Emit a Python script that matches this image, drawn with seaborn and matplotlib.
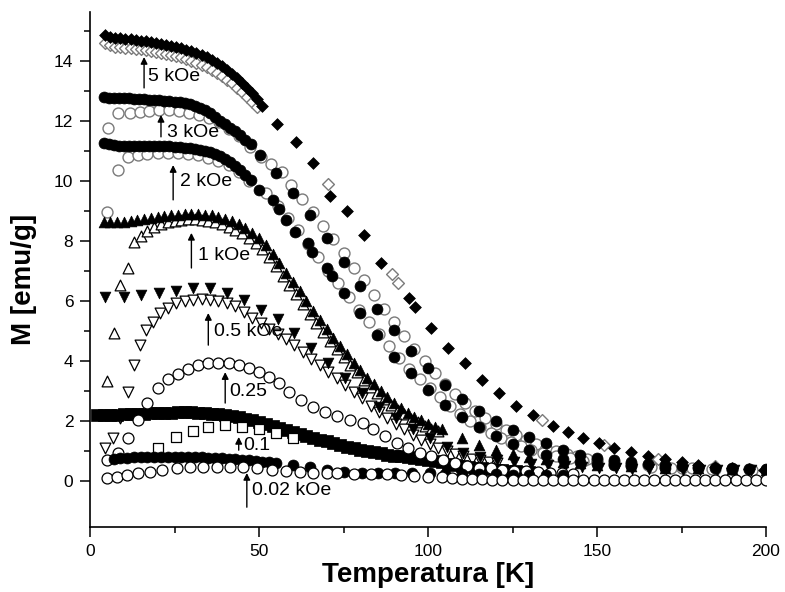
import matplotlib
matplotlib.use("Agg")
import matplotlib.pyplot as plt
import seaborn as sns

# ---------------- data ----------------
# 5 kOe
T_5k_fc = [4.5, 6, 7.5, 9, 10.5, 12, 13.5, 15, 16.5, 18, 19.5, 21, 22.5, 24, 25.5, 27, 28.5, 30, 31.5, 33,
           34.5, 36, 37.5, 39, 40.5, 42, 43.5, 45, 46.5, 48, 49.5, 51,
           55.3, 61, 66, 71, 76, 81, 86, 94.5, 96.2, 101, 106, 111, 116, 121, 126, 131, 137, 141.5,
           146, 150.5, 155, 160, 165, 170, 175, 180, 185, 190, 195, 199.5]
M_5k_fc = [14.85, 14.8, 14.78, 14.75, 14.73, 14.72, 14.7, 14.68, 14.65, 14.62, 14.6, 14.57, 14.53, 14.5,
           14.46, 14.42, 14.37, 14.32, 14.26, 14.2, 14.12, 14.03, 13.93, 13.82, 13.7, 13.56, 13.42, 13.26,
           13.1, 12.92, 12.72, 12.5,
           11.9, 11.3, 10.6, 9.5, 9.0, 8.2, 7.25, 6.1, 5.8, 5.1, 4.45, 3.93, 3.38, 2.93, 2.5, 2.2, 1.85, 1.63,
           1.42, 1.27, 1.1, 0.98, 0.85, 0.72, 0.62, 0.55, 0.48, 0.43, 0.4, 0.37]
T_5k_zfc = [4.5, 6, 7.5, 9, 10.5, 12, 13.5, 15, 16.5, 18, 19.5, 21, 22.5, 24, 25.5, 27, 28.5, 30, 31.5, 33,
            34.5, 36, 37.5, 39, 40.5, 42, 43.5, 45, 46.5, 48, 49.5,
            70.5, 89.3, 91.1, 133.7, 152, 168, 185]
M_5k_zfc = [14.6, 14.52, 14.48, 14.45, 14.43, 14.42, 14.4, 14.39, 14.37, 14.34, 14.31, 14.28, 14.24, 14.2,
            14.16, 14.12, 14.06, 14.0, 13.94, 13.87, 13.79, 13.7, 13.6, 13.5, 13.38, 13.25, 13.1, 12.95,
            12.8, 12.62, 12.45,
            9.9, 6.9, 6.6, 2.03, 1.2, 0.75, 0.5]

# 3 kOe
T_3k_fc = [4, 5.5, 7, 8.5, 10, 11.5, 13, 14.5, 16, 17.5, 19, 20.5, 22, 23.5, 25, 26.5, 28, 29.5, 31, 32.5,
           34, 35.5, 37, 38.5, 40, 41.5, 43, 44.5, 46, 47.5,
           50.3, 55, 60, 65, 70, 75, 80, 85, 90, 95, 100, 105, 110, 115, 120, 125, 130, 135, 140, 145, 150,
           155, 160, 165, 170, 175, 180, 185, 190, 195, 200]
M_3k_fc = [12.8, 12.78, 12.77, 12.76, 12.76, 12.75, 12.74, 12.73, 12.72, 12.71, 12.7, 12.69, 12.68, 12.66,
           12.64, 12.62, 12.59, 12.55, 12.5, 12.43, 12.35, 12.25, 12.12, 12.0, 11.9, 11.78, 11.66, 11.53,
           11.38, 11.22,
           10.87, 10.27, 9.6, 8.87, 8.1, 7.3, 6.5, 5.73, 5.03, 4.33, 3.77, 3.2, 2.75, 2.35, 2.0, 1.7, 1.47,
           1.28, 1.05, 0.88, 0.77, 0.7, 0.63, 0.58, 0.53, 0.5, 0.47, 0.45, 0.43, 0.41, 0.4]
T_3k_zfc = [5.4, 8.3, 11.7, 14.7, 17.6, 20.5, 23.4, 26.3, 29.2, 32.2, 35.2, 38.2, 41.2,
            44, 47.3, 50.5, 53.5, 56.8, 59.5, 62.7, 66, 69, 72, 75, 78, 81, 84, 87, 90, 93, 96, 99, 102,
            105, 108, 111, 114, 117, 120, 123, 126, 129, 132, 135, 138, 141, 144, 147, 150,
            155, 160, 165, 170, 175, 180, 185, 190, 195]
M_3k_zfc = [11.77, 12.27, 12.27, 12.3, 12.33, 12.37, 12.37, 12.33, 12.27, 12.2, 12.1, 11.95, 11.72,
            11.5, 11.13, 10.8, 10.55, 10.3, 9.87, 9.4, 8.95, 8.5, 8.05, 7.6, 7.1, 6.7, 6.2, 5.75, 5.3,
            4.85, 4.4, 4.0, 3.6, 3.25, 2.9, 2.6, 2.35, 2.1, 1.9, 1.7, 1.52, 1.37, 1.23, 1.1, 1.0, 0.9,
            0.82, 0.75, 0.7, 0.62, 0.56, 0.52, 0.48, 0.45, 0.43, 0.41, 0.4, 0.39]

# 2 kOe
T_2k_fc = [4, 5.5, 7, 8.5, 10, 11.5, 13, 14.5, 16, 17.5, 19, 20.5, 22, 23.5, 25, 26.5, 28, 29.5, 31, 32.5,
           34, 35.5, 37, 38.5, 40, 41.5, 43, 44.5, 46, 47.5,
           50, 54, 56, 58, 60.6, 64.5, 65.7, 70, 71.5, 75, 80, 85, 90, 95, 100, 105, 110, 115, 120, 125,
           130, 135, 140, 145, 150, 155, 160, 170, 180, 190, 200]
M_2k_fc = [11.25, 11.22, 11.2, 11.18, 11.17, 11.17, 11.16, 11.16, 11.16, 11.16, 11.16, 11.16, 11.15, 11.15,
           11.14, 11.13, 11.11, 11.09, 11.06, 11.03, 10.99, 10.95, 10.89, 10.82, 10.73, 10.62, 10.5, 10.36,
           10.2, 10.03,
           9.7, 9.37, 9.05, 8.7, 8.3, 7.93, 7.63, 7.1, 6.85, 6.27, 5.6, 4.87, 4.13, 3.6, 3.03, 2.55, 2.15,
           1.8, 1.5, 1.25, 1.03, 0.87, 0.75, 0.65, 0.58, 0.53, 0.5, 0.45, 0.42, 0.4, 0.38]
T_2k_zfc = [5, 8.3, 11.2, 14.2, 17, 20, 23, 26, 29, 32, 35, 38, 41, 44, 47,
            52, 55.5, 58.5, 61.5, 64.5, 67.5, 70.5, 73.5, 76.5, 79.5, 82.5, 85.5, 88.5, 91.5, 94.5, 97.5,
            100.5, 103.5, 106.5, 109.5, 112.5, 115.5, 118.5, 121.5, 124.5, 127.5, 130.5, 134, 138, 142,
            146, 150, 155, 160, 166, 172, 178, 184, 190, 196]
M_2k_zfc = [8.95, 10.37, 10.8, 10.87, 10.9, 10.92, 10.93, 10.92, 10.9, 10.85, 10.78, 10.68, 10.52, 10.3, 10.0,
            9.6, 9.15, 8.75, 8.35, 7.9, 7.45, 7.0, 6.6, 6.15, 5.7, 5.3, 4.9, 4.5, 4.1, 3.75, 3.4, 3.1, 2.8,
            2.5, 2.25, 2.0, 1.8, 1.6, 1.45, 1.3, 1.17, 1.05, 0.95, 0.85, 0.76, 0.68, 0.62, 0.56, 0.52,
            0.48, 0.45, 0.42, 0.4, 0.39, 0.38]

# 1 kOe
T_1k_fc = [4, 6, 8, 10, 12, 14, 16, 18, 20, 22, 24, 26, 28, 30, 32, 34, 36, 38, 40, 42, 44, 46, 48, 50, 52,
           54, 56, 58, 60, 62, 64, 66, 68, 70, 72, 74, 76, 78, 80, 82, 84, 86, 88, 90, 92, 94, 96, 98, 100,
           102, 104,
           110, 115, 120, 125, 130, 135, 140, 145, 150, 160, 170, 180, 190, 200]
M_1k_fc = [8.62, 8.62, 8.62, 8.64, 8.67, 8.71, 8.74, 8.78, 8.81, 8.84, 8.87, 8.88, 8.9, 8.9, 8.9, 8.88,
           8.85, 8.8, 8.74, 8.66, 8.55, 8.42, 8.27, 8.1, 7.85, 7.55, 7.25, 6.95, 6.65, 6.32, 6.0, 5.68,
           5.37, 5.07, 4.78, 4.5, 4.22, 3.95, 3.7, 3.45, 3.22, 3.0, 2.8, 2.6, 2.43, 2.28, 2.14, 2.02, 1.9,
           1.8, 1.72,
           1.45, 1.2, 1.02, 0.9, 0.8, 0.72, 0.65, 0.6, 0.55, 0.5, 0.45, 0.42, 0.4, 0.38]
T_1k_zfc = [5, 7, 9, 11.2, 13, 15, 17, 19, 21, 23, 25, 27, 29, 31, 33, 35, 37, 39, 41, 43, 45, 47, 49, 51,
            53, 55, 57, 59, 61, 63, 65, 67, 69, 71, 73, 75, 77, 79, 81, 83, 85, 87, 89, 91, 93, 95, 97, 99,
            101, 103]
M_1k_zfc = [3.35, 4.93, 6.53, 7.1, 7.95, 8.15, 8.32, 8.45, 8.55, 8.62, 8.66, 8.7, 8.72, 8.72, 8.7, 8.67,
            8.62, 8.55, 8.47, 8.37, 8.25, 8.1, 7.93, 7.72, 7.45, 7.15, 6.85, 6.55, 6.22, 5.9, 5.58, 5.27,
            4.97, 4.68, 4.4, 4.13, 3.87, 3.62, 3.38, 3.15, 2.93, 2.73, 2.54, 2.37, 2.22, 2.08, 1.96, 1.85,
            1.75, 1.67]

# 0.5 kOe
T_05k_fc = [4.4, 10, 15, 20.5, 25.5, 30.5, 35.5, 40.5, 45.5, 50.5, 55.5, 60.5, 65.5, 70.5, 75.5, 80.5,
            85.5, 90.5, 95.5, 100.5, 105.5, 110.5, 115.5, 120.5, 125.5, 130.5, 135.5, 140.5, 145.5, 150.5,
            155.5, 160.5, 165.5, 170.5, 175.5, 180.5, 185.5, 190.5, 195.5]
M_05k_fc = [6.13, 6.15, 6.2, 6.27, 6.35, 6.42, 6.42, 6.27, 6.02, 5.7, 5.4, 4.93, 4.43, 3.93, 3.43, 2.93,
            2.47, 2.1, 1.72, 1.43, 1.15, 0.95, 0.8, 0.7, 0.62, 0.56, 0.52, 0.49, 0.46, 0.44, 0.42, 0.41,
            0.4, 0.39, 0.38, 0.37, 0.37, 0.36, 0.36]
T_05k_zfc = [4.4, 6.8, 9, 11.2, 13, 14.8, 16.6, 18.6, 20.7, 23, 25.5, 28, 30.5, 33, 35.5, 38, 40.5, 43,
             45.5, 48, 50.5, 53, 55.5, 58, 60.5, 63, 65.5, 68, 70.5, 73, 75.5, 78, 80.5, 83, 85.5, 88, 90.5,
             93, 95.5, 98, 100.5, 103, 105.5, 108, 110.5, 113, 115.5, 118, 120.5]
M_05k_zfc = [1.1, 1.45, 2.1, 2.97, 3.87, 4.53, 5.03, 5.3, 5.6, 5.77, 5.93, 6.0, 6.05, 6.07, 6.05, 6.0,
             5.93, 5.83, 5.65, 5.45, 5.27, 5.08, 4.9, 4.72, 4.52, 4.3, 4.08, 3.86, 3.64, 3.42, 3.2, 2.98,
             2.77, 2.5, 2.3, 2.1, 1.9, 1.72, 1.55, 1.38, 1.24, 1.11, 1.0, 0.9, 0.82, 0.75, 0.69, 0.64, 0.6]

# 0.25 kOe
T_025k_fc = [2, 4, 6, 8, 10, 12, 14, 16, 18, 20, 22, 24, 26, 28, 30, 32, 34, 36, 38, 40, 42, 44, 46, 48,
             50, 52, 54, 56, 58, 60, 62, 64, 66, 68, 70, 72, 74, 76, 78, 80, 82, 84, 86, 88, 90, 92, 94, 96,
             98, 100, 102, 104, 106, 108, 110, 112, 114, 116, 118, 120, 122, 124, 126, 128, 130]
M_025k_fc = [2.2, 2.2, 2.2, 2.21, 2.22, 2.23, 2.24, 2.25, 2.26, 2.27, 2.28, 2.28, 2.29, 2.29, 2.29, 2.28,
             2.27, 2.25, 2.23, 2.2, 2.16, 2.12, 2.07, 2.02, 1.96, 1.9, 1.84, 1.78, 1.71, 1.64, 1.57, 1.5,
             1.44, 1.38, 1.32, 1.26, 1.2, 1.15, 1.1, 1.05, 1.0, 0.96, 0.92, 0.88, 0.85, 0.82, 0.79, 0.76,
             0.73, 0.7, 0.66, 0.62, 0.58, 0.54, 0.5, 0.47, 0.44, 0.42, 0.4, 0.38, 0.36, 0.34, 0.32, 0.3, 0.29]
T_025k_zfc = [5, 8.3, 11.2, 14.2, 17, 20, 23, 26, 29, 32, 35, 38, 41, 44, 47, 50, 53, 56, 59, 62.5, 66,
              69.5, 73, 77, 80.8, 83.7, 87.3, 90.8, 94, 97.6, 101, 104.4, 108, 111.5, 115, 118.5, 122,
              125.5, 129, 132.5, 136, 139.5, 143]
M_025k_zfc = [0.7, 0.93, 1.43, 2.03, 2.6, 3.1, 3.4, 3.57, 3.75, 3.87, 3.93, 3.95, 3.93, 3.87, 3.77, 3.63,
              3.47, 3.27, 2.98, 2.7, 2.47, 2.3, 2.17, 2.05, 1.93, 1.72, 1.5, 1.28, 1.1, 0.95, 0.82, 0.7,
              0.6, 0.5, 0.45, 0.42, 0.38, 0.35, 0.32, 0.3, 0.28, 0.26, 0.25]

# 0.1 kOe
T_01k_zfc = [20, 25.5, 30.5, 35, 40, 45, 50, 55, 60]
M_01k_zfc = [1.1, 1.47, 1.67, 1.8, 1.87, 1.8, 1.72, 1.6, 1.45]
T_01k_fc = [7, 9, 11, 13, 15, 17, 19, 21, 23, 25, 27, 29, 31, 33, 35, 37, 39, 41, 43, 45, 47, 49, 51, 53, 55,
            60, 65, 70, 75, 80.5, 85.2, 90.2, 95.2, 100.6, 105, 110, 115, 120, 125, 130, 135, 140]
M_01k_fc = [0.75, 0.77, 0.78, 0.79, 0.79, 0.8, 0.8, 0.8, 0.8, 0.8, 0.8, 0.8, 0.79, 0.79, 0.78, 0.77, 0.76,
            0.75, 0.73, 0.71, 0.69, 0.67, 0.65, 0.63, 0.6,
            0.53, 0.47, 0.38, 0.3, 0.28, 0.27, 0.27, 0.26, 0.26, 0.25, 0.24, 0.23, 0.22, 0.21, 0.2, 0.2, 0.19]

# 0.02 kOe
T_002k_zfc = [5, 8, 11, 14.3, 17.8, 21.3, 25.7, 29.6, 33.4, 37.5, 41.4, 45.3, 49.3, 53.8, 58, 62, 66, 70,
              73, 78, 83, 88, 92, 96, 100, 104, 107, 110, 113, 116, 119, 122, 125, 128, 131, 134, 137, 140,
              143, 146, 149, 152, 155, 158, 161, 164, 167, 170, 173, 176, 179, 182, 185, 188, 191, 194, 197,
              200]
M_002k_zfc = [0.1, 0.13, 0.2, 0.27, 0.3, 0.37, 0.43, 0.47, 0.47, 0.47, 0.47, 0.47, 0.43, 0.37, 0.32, 0.3,
              0.28, 0.27, 0.26, 0.25, 0.24, 0.22, 0.2, 0.17, 0.14, 0.12, 0.1, 0.08, 0.07, 0.06, 0.05, 0.05,
              0.04, 0.04, 0.04, 0.03, 0.03, 0.03, 0.03, 0.03, 0.03, 0.02, 0.02, 0.02, 0.02, 0.02, 0.02,
              0.02, 0.02, 0.02, 0.02, 0.02, 0.02, 0.02, 0.02, 0.02, 0.02, 0.02]

field_labels = ["5 kOe", "3 kOe", "2 kOe", "1 kOe", "0.5 kOe", "0.25", "0.1", "0.02 kOe"]

# ---------------- figure ----------------
sns.set_theme(style="ticks")
plt.rcParams["font.family"] = ["Liberation Sans", "DejaVu Sans"]

fig = plt.figure(figsize=(7.85, 5.92), dpi=100)
ax = fig.add_axes([90 / 785, 65 / 592, 676 / 785, 515 / 592])

gray = "#7a7a7a"
black = "black"
S_C = 62
S_T = 60
S_D = 36
S_S = 80

def pts(T, M, marker, s, face, edge, lw, z):
    sns.scatterplot(x=T, y=M, marker=marker, s=s, color=face, edgecolor=edge,
                    linewidth=lw, ax=ax, legend=False, zorder=z)

pts(T_5k_zfc, M_5k_zfc, "D", S_D, "white", gray, 1.0, 2)
pts(T_5k_fc, M_5k_fc, "D", S_D, black, black, 0.5, 3)
pts(T_3k_zfc, M_3k_zfc, "o", S_C, "white", gray, 1.0, 2)
pts(T_3k_fc, M_3k_fc, "o", S_C, black, black, 0.5, 3)
pts(T_2k_zfc, M_2k_zfc, "o", S_C, "white", gray, 1.0, 2)
pts(T_2k_fc, M_2k_fc, "o", S_C, black, black, 0.5, 3)
pts(T_1k_zfc, M_1k_zfc, "^", S_T, "white", black, 0.9, 2)
pts(T_1k_fc, M_1k_fc, "^", S_T, black, black, 0.5, 3)
pts(T_05k_zfc, M_05k_zfc, "v", S_T, "white", black, 0.9, 2)
pts(T_05k_fc, M_05k_fc, "v", S_T, black, black, 0.5, 3)
pts(T_025k_fc, M_025k_fc, "s", S_S, black, black, 0.5, 3)
pts(T_025k_zfc, M_025k_zfc, "o", S_C, "white", black, 0.9, 4)
pts(T_01k_zfc, M_01k_zfc, "s", S_C, "white", black, 0.9, 4)
pts(T_01k_fc, M_01k_fc, "o", S_C, black, black, 0.5, 4)
pts(T_002k_zfc, M_002k_zfc, "o", S_C, "white", black, 0.9, 5)

arrow_x = [16, 21, 24.6, 30, 35, 40, 44, 46.4]
arrow_y0 = [13.1, 11.47, 9.37, 7.1, 4.53, 2.6, 1.03, -0.87]
arrow_y1 = [14.13, 12.2, 10.53, 8.27, 5.6, 3.63, 1.47, 0.27]
text_x = [17.2, 22.8, 26.6, 32, 36.7, 41.1, 45.3, 48]
text_y = [13.47, 11.63, 9.97, 7.53, 4.97, 2.97, 1.2, -0.3]
for lab, ax_, y0, y1, tx, ty in zip(field_labels, arrow_x, arrow_y0, arrow_y1, text_x, text_y):
    ax.annotate("", xy=(ax_, y1), xytext=(ax_, y0),
                arrowprops=dict(arrowstyle="-|>", color="black", lw=1.0, mutation_scale=10,
                                shrinkA=0, shrinkB=0), zorder=6)
    ax.text(tx, ty, lab, fontsize=14, ha="left", va="center", color="black", zorder=6)

ax.set_xlim(0, 200)
ax.set_ylim(-1.53, 15.63)
ax.set_xticks([0, 50, 100, 150, 200])
ax.set_xticks([25, 75, 125, 175], minor=True)
ax.set_yticks([0, 2, 4, 6, 8, 10, 12, 14])
ax.set_yticks([1, 3, 5, 7, 9, 11, 13, 15], minor=True)
ax.tick_params(axis="both", which="major", direction="out", length=7, width=1.1,
               labelsize=12.5, pad=5, colors="black")
ax.tick_params(axis="both", which="minor", direction="out", length=4, width=1.1, colors="black")
for side in ["top", "right"]:
    ax.spines[side].set_visible(False)
for side in ["left", "bottom"]:
    ax.spines[side].set_linewidth(1.2)
    ax.spines[side].set_color("black")

ax.set_xlabel("Temperatura [K]", fontsize=20, fontweight="bold", color="black")
ax.set_ylabel("M [emu/g]", fontsize=20, fontweight="bold", color="black")
ax.xaxis.set_label_coords(0.5, -0.068)
ax.yaxis.set_label_coords(-0.078, 0.48)

fig.savefig("out.png", dpi=100)
